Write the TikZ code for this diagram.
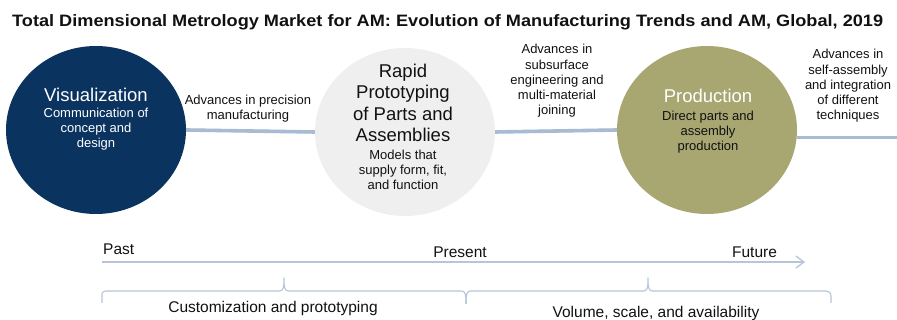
\documentclass[tikz,border=0pt]{standalone}
\usepackage{fontspec}
\setmainfont{Liberation Sans}
\usetikzlibrary{shapes.geometric,arrows.meta}

\definecolor{navyfill}{HTML}{0A3360}
\definecolor{ghostfill}{HTML}{EFEFEF}
\definecolor{prodfill}{HTML}{A8A772}
\definecolor{linkblue}{HTML}{A8BBD3}
\definecolor{axisblue}{HTML}{B6C5D8}
\definecolor{inktext}{HTML}{111111}

\begin{document}
\begin{tikzpicture}[x=1pt,y=-1pt,
  stage/.style={ellipse, minimum width=180pt, minimum height=168pt, inner sep=0pt, draw=none},
  % multi-line nodes: the base anchor sits on the last line
  head/.style={font=\fontsize{18.5}{21.5}\selectfont, align=center, anchor=base, inner sep=0pt},
  body/.style={font=\fontsize{13}{15.3}\selectfont, align=center, anchor=base, inner sep=0pt},
  axislabel/.style={font=\fontsize{15.5}{18}\selectfont, anchor=base, inner sep=0pt, text=inktext},
  linkline/.style={line width=3.6pt, draw=linkblue},
  linkshade/.style={line width=3pt, draw=black!50, opacity=0.3, yshift=-1.6pt},
  axisline/.style={line width=1.3pt, draw=axisblue},
]
\useasboundingbox (0,0) rectangle (897,320);

% title
\node[anchor=base west, inner sep=0pt, text=inktext,
      font=\bfseries\fontsize{16.5}{19}\selectfont] (title) at (12,27)
  {\scalebox{1.1}[1]{Total Dimensional Metrology Market for AM: Evolution of Manufacturing Trends and AM, Global, 2019}};

% the three stages
\node[stage, fill=navyfill]  (vis)   at (96,130)  {};
\node[stage, fill=ghostfill] (proto) at (405,132) {};
\node[stage, fill=prodfill]  (prod)  at (707,130) {};
\coordinate (tail) at (897,137.5);

% connectors between stages
\draw[linkshade] (vis.east) -- (proto.west);
\draw[linkline]  (vis.east) -- (proto.west);
\draw[linkshade] (proto.east) -- (prod.west);
\draw[linkline]  (proto.east) -- (prod.west);
\draw[linkshade] (prod.east |- tail) -- (tail);
\draw[linkline]  (prod.east |- tail) -- (tail);

% stage texts
\node[head, text=white] (visT) at (96,102) {Visualization};
\node[body, text=white] (visB) at (96,148) {Communication of\\concept and\\design};

\node[head, text=inktext] (protoT) at (403,142) {Rapid\\Prototyping\\of Parts and\\Assemblies};
\node[body, text=inktext] (protoB) at (403,190) {Models that\\supply form, fit,\\and function};

\node[head, text=white] (prodT) at (708,103) {Production};
\node[body, text=inktext] (prodB) at (708,151) {Direct parts and\\assembly\\production};

% transitions
\node[body, text=inktext] (adv1) at (248,120) {Advances in precision\\manufacturing};
\node[body, text=inktext] (adv2) at (557,115) {Advances in\\subsurface\\engineering and\\multi-material\\joining};
\node[body, text=inktext] (adv3) at (848,120) {Advances in\\self-assembly\\and integration\\of different\\techniques};

% time axis
\coordinate (t0) at (102,262);
\coordinate (t1) at (805,262);
\draw[axisline, -{Straight Barb[length=8pt,width=12pt]}] (t0) -- (t1);
\node[axislabel, anchor=base west] (past) at (103,255) {Past};
\node[axislabel] (present) at (460,258) {Present};
\node[axislabel] (future) at (754.5,258) {Future};

% braces under the axis
\draw[axisline, line width=1.1pt, line join=round]
  (102,303) -- (102,296) .. controls (102,292) .. (106,291) -- (279,291)
  .. controls (283,291) and (284,289) .. (284,278)
  .. controls (284,289) and (285,291) .. (289,291) -- (461,291)
  .. controls (465,291) and (466,293) .. (466,304);
\draw[axisline, line width=1.1pt, line join=round]
  (466,304) .. controls (466,293) and (467,291) .. (471,291) -- (643,291)
  .. controls (647,291) and (648,289) .. (648,278)
  .. controls (648,289) and (649,291) .. (653,291) -- (826,291)
  .. controls (830,292) .. (831,296) -- (831,303);

\node[axislabel] (custom) at (273,313) {Customization and prototyping};
\node[axislabel] (volume) at (656,318) {Volume, scale, and availability};
\end{tikzpicture}
\end{document}
